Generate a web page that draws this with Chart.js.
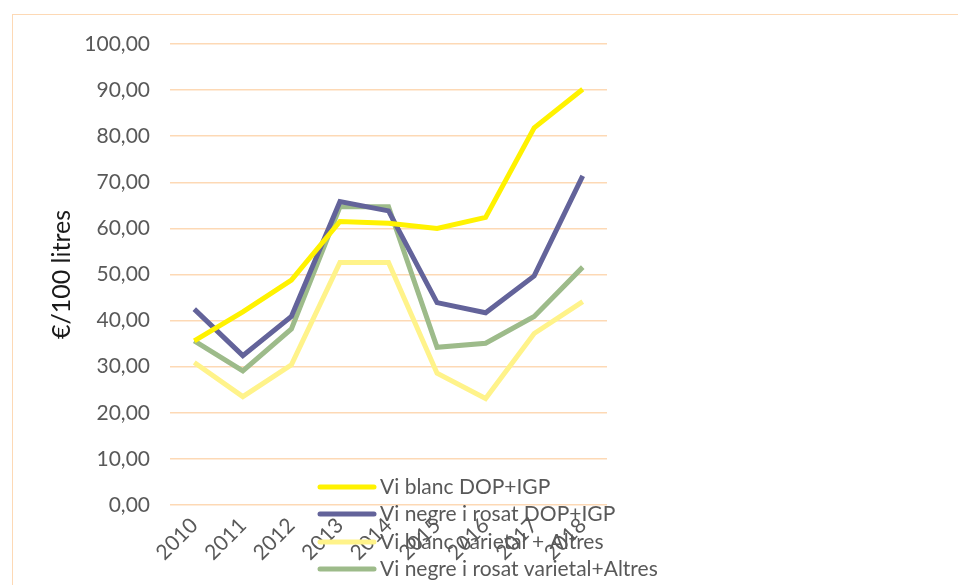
<!DOCTYPE html>
<html>
<head>
<meta charset="utf-8">
<script src="https://cdn.jsdelivr.net/npm/chart.js@4"></script>
<style>
    body { margin: 0; background: #fff; }
    #wrap { position: absolute; left: 0; top: 0; width: 958px; height: 585px; }
    #frame { position: absolute; left: 12px; top: 14px; width: 960px; height: 600px; border: 1px solid #FDD9B5; box-sizing: border-box; }
</style>
</head>
<body>
<div id="frame"></div>
<div id="wrap"><canvas id="chart" width="958" height="585"></canvas></div>
<script>
const years = ['2010', '2011', '2012', '2013', '2014', '2015', '2016', '2017', '2018'];
const seriesNames = ['Vi blanc DOP+IGP', 'Vi negre i rosat DOP+IGP', 'Vi blanc varietal + Altres', 'Vi negre i rosat varietal+Altres'];
const blancDop = [35.6, 41.9, 48.8, 61.5, 61.1, 60.0, 62.4, 81.8, 90.2];
const negreDop = [42.5, 32.4, 40.9, 65.8, 63.8, 43.9, 41.7, 49.7, 71.4];
const blancVar = [30.9, 23.5, 30.4, 52.6, 52.6, 28.6, 23.1, 37.2, 44.1];
const negreVar = [35.6, 29.1, 38.2, 64.7, 64.7, 34.2, 35.1, 40.9, 51.6];
const seriesColors = ['#FFF200', '#63639A', '#FFF38A', '#9DBB8A'];
const yTitle = '€/100 litres';

const FONT = 'Lato, "Open Sans", sans-serif';
const TEXT = '#595959';
const GRID = '#FDD9B5';

// legend drawn over the x labels like in the original
const legendPlugin = {
    id: 'overlapLegend',
    afterDraw(chart) {
        const ctx = chart.ctx;
        const x0 = 320, x1 = 374, tx = 380;
        const rows = [487, 514, 542, 569];
        ctx.save();
        chart.data.datasets.forEach((ds, i) => {
            ctx.strokeStyle = ds.borderColor;
            ctx.lineWidth = 5;
            ctx.lineCap = 'round';
            ctx.beginPath();
            ctx.moveTo(x0, rows[i]);
            ctx.lineTo(x1, rows[i]);
            ctx.stroke();
            ctx.fillStyle = TEXT;
            ctx.font = '21px ' + FONT;
            ctx.textBaseline = 'middle';
            ctx.textAlign = 'left';
            ctx.fillText(ds.label, tx, rows[i]);
        });
        ctx.restore();
    }
};

const allSeries = [blancDop, negreDop, blancVar, negreVar];

new Chart(document.getElementById('chart'), {
    type: 'line',
    data: {
        labels: years,
        datasets: allSeries.map((vals, i) => ({
            label: seriesNames[i],
            data: vals,
            borderColor: seriesColors[i],
            backgroundColor: seriesColors[i],
            borderWidth: 5,
            pointRadius: 0,
            tension: 0,
            fill: false
        }))
    },
    options: {
        responsive: false,
        animation: false,
        layout: { padding: { left: 0, top: 44, right: 351, bottom: 0 } },
        plugins: {
            legend: { display: false },
            tooltip: { enabled: false }
        },
        scales: {
            x: {
                offset: true,
                grid: { display: false },
                border: { display: false },
                ticks: {
                    minRotation: 45,
                    maxRotation: 45,
                    color: TEXT,
                    font: { family: FONT, size: 21 },
                    padding: 0
                },
                afterFit: s => { s.height = 80; }
            },
            y: {
                min: 0,
                max: 100,
                grid: { color: GRID, lineWidth: 1.5, drawTicks: false },
                border: { display: false },
                ticks: {
                    stepSize: 10,
                    color: TEXT,
                    padding: 20,
                    font: { family: FONT, size: 21 },
                    callback: v => v.toFixed(2).replace('.', ',')
                },
                title: {
                    display: true,
                    text: yTitle,
                    color: '#1a1a1a',
                    padding: { top: 47, bottom: 0 },
                    font: { family: FONT, size: 25 }
                },
                afterFit: s => { s.width = 170; }
            }
        }
    },
    plugins: [legendPlugin]
});
</script>
</body>
</html>
